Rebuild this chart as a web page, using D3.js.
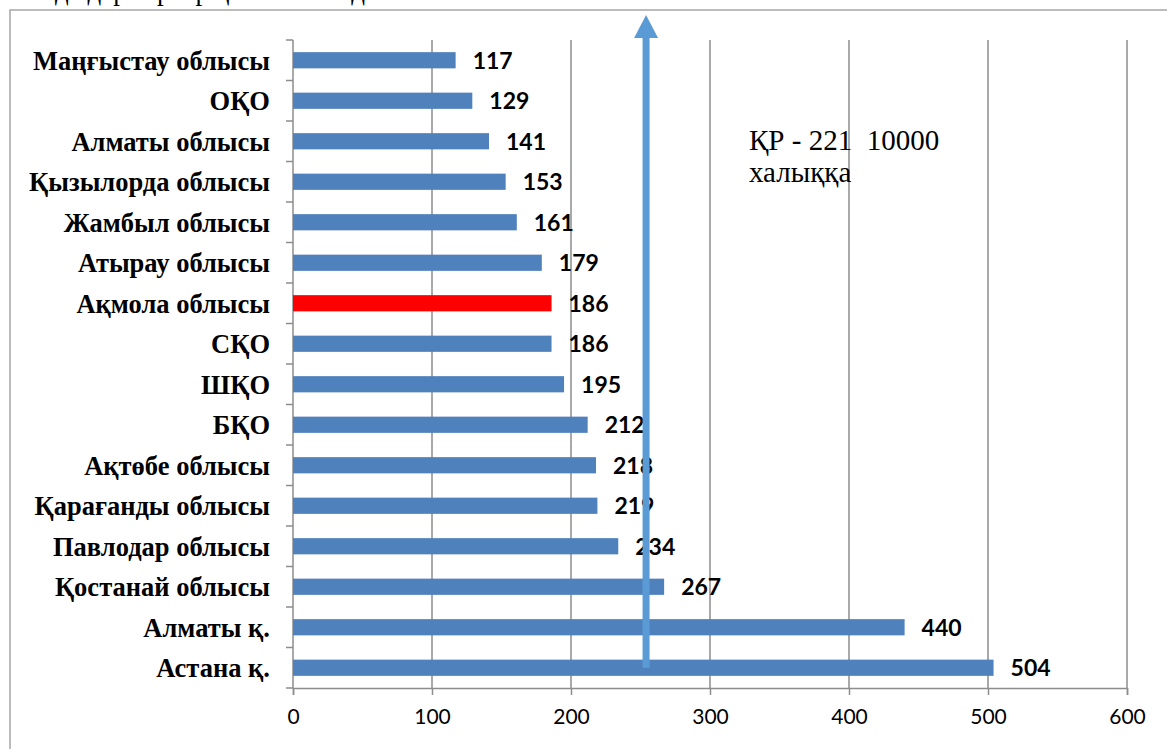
<!DOCTYPE html>
<html>
<head>
<meta charset="utf-8">
<script src="https://cdn.jsdelivr.net/npm/d3@7"></script>
<style>
  body { margin: 0; background: #fff; }
  svg { display: block; }
</style>
</head>
<body>
<svg id="chart" width="1167" height="749"></svg>
<script>
// regions, top to bottom as in the picture
const regions = [
    "Маңғыстау облысы", "ОҚО", "Алматы облысы", "Қызылорда облысы",
    "Жамбыл облысы", "Атырау облысы", "Ақмола облысы", "СҚО", "ШҚО", "БҚО",
    "Ақтөбе облысы", "Қарағанды облысы", "Павлодар облысы", "Қостанай облысы",
    "Алматы қ.", "Астана қ."
];
const values = [117, 129, 141, 153, 161, 179, 186, 186, 195, 212, 218, 219, 234, 267, 440, 504];
const highlighted = ["Ақмола облысы"];
const xTicks = [0, 100, 200, 300, 400, 500, 600];

// annotation: arrow for the republic level
const arrowValue = 254;
const noteLines = ["ҚР - 221  10000", "халыққа"];

const svg = d3.select("#chart");
const width = 1167, height = 749;

const x = d3.scaleLinear().domain([0, 600]).range([293, 1127]);
const y = d3.scaleBand().domain(regions).range([40, 688])
    .paddingInner(0.6).paddingOuter(0.3);

const gridColor = "#8c8c8c";

// outer frame
svg.append("rect")
    .attr("x", 10).attr("y", 10)
    .attr("width", width + 20).attr("height", height + 20)
    .attr("fill", "none")
    .attr("stroke", "#a6a6a6")
    .attr("stroke-width", 1.5);

// caption cut off at the top of the page (only descenders show)
svg.append("text")
    .attr("x", -10).attr("y", 0)
    .style("font-family", "'Liberation Serif', serif")
    .style("font-size", "27px")
    .text("Кестеде дәрігерлер қамтамасыздығы");

// vertical gridlines
svg.append("g")
    .selectAll("line")
    .data(xTicks.slice(1))
    .enter().append("line")
    .attr("x1", d => x(d)).attr("x2", d => x(d))
    .attr("y1", 40).attr("y2", 688)
    .attr("stroke", gridColor)
    .attr("stroke-width", 1.5);

// x axis
const xAxis = svg.append("g")
    .attr("transform", "translate(0,688)")
    .call(d3.axisBottom(x).tickValues(xTicks).tickSize(7).tickPadding(14));
xAxis.select(".domain").attr("stroke", gridColor).attr("stroke-width", 1.5);
xAxis.selectAll(".tick line").attr("stroke", gridColor).attr("stroke-width", 1.5);
xAxis.selectAll("text")
    .attr("fill", "#000")
    .style("font-family", "Lato, 'Open Sans', sans-serif")
    .style("font-size", "21px");

// y axis: line plus ticks at band boundaries
const step = y.step();
const boundaries = d3.range(regions.length + 1).map(i => 40 + i * step);
svg.append("line")
    .attr("x1", x(0)).attr("x2", x(0))
    .attr("y1", 40).attr("y2", 688)
    .attr("stroke", gridColor)
    .attr("stroke-width", 1.5);
svg.append("g")
    .selectAll("line")
    .data(boundaries)
    .enter().append("line")
    .attr("x1", x(0) - 7).attr("x2", x(0))
    .attr("y1", d => d).attr("y2", d => d)
    .attr("stroke", gridColor)
    .attr("stroke-width", 1.5);

// category labels
svg.append("g")
    .selectAll("text")
    .data(regions)
    .enter().append("text")
    .attr("x", 270)
    .attr("y", d => y(d) + y.bandwidth() / 2)
    .attr("dy", "0.35em")
    .attr("text-anchor", "end")
    .style("font-family", "'Liberation Serif', serif")
    .style("font-weight", "bold")
    .style("font-size", "26.5px")
    .text(d => d);

// bars
const rows = regions.map((r, i) => ({ name: r, value: values[i] }));
svg.append("g")
    .selectAll("rect")
    .data(rows)
    .enter().append("rect")
    .attr("x", x(0))
    .attr("y", d => y(d.name))
    .attr("width", d => x(d.value) - x(0))
    .attr("height", y.bandwidth())
    .attr("fill", d => highlighted.includes(d.name) ? "#ff0000" : "#4f81bd");

// value labels
svg.append("g")
    .selectAll("text")
    .data(rows)
    .enter().append("text")
    .attr("x", d => x(d.value) + 17)
    .attr("y", d => y(d.name) + y.bandwidth() / 2)
    .attr("dy", "0.38em")
    .style("font-family", "Lato, 'Open Sans', sans-serif")
    .style("font-weight", "bold")
    .style("font-size", "23px")
    .text(d => d.value);

// arrow
const ax = x(arrowValue);
const arrowBottom = y(regions[regions.length - 1]) + y.bandwidth() / 2;
svg.append("line")
    .attr("x1", ax).attr("x2", ax)
    .attr("y1", arrowBottom).attr("y2", 36)
    .attr("stroke", "#5b9bd5")
    .attr("stroke-width", 7);
svg.append("path")
    .attr("d", `M${ax},15 L${ax + 12},38 L${ax - 12},38 Z`)
    .attr("fill", "#5b9bd5");

// annotation text
svg.append("g")
    .selectAll("text")
    .data(noteLines)
    .enter().append("text")
    .attr("x", 749)
    .attr("y", (d, i) => 150 + i * 32)
    .style("font-family", "'Liberation Serif', serif")
    .style("font-size", "29px")
    .style("white-space", "pre")
    .text(d => d);
</script>
</body>
</html>
